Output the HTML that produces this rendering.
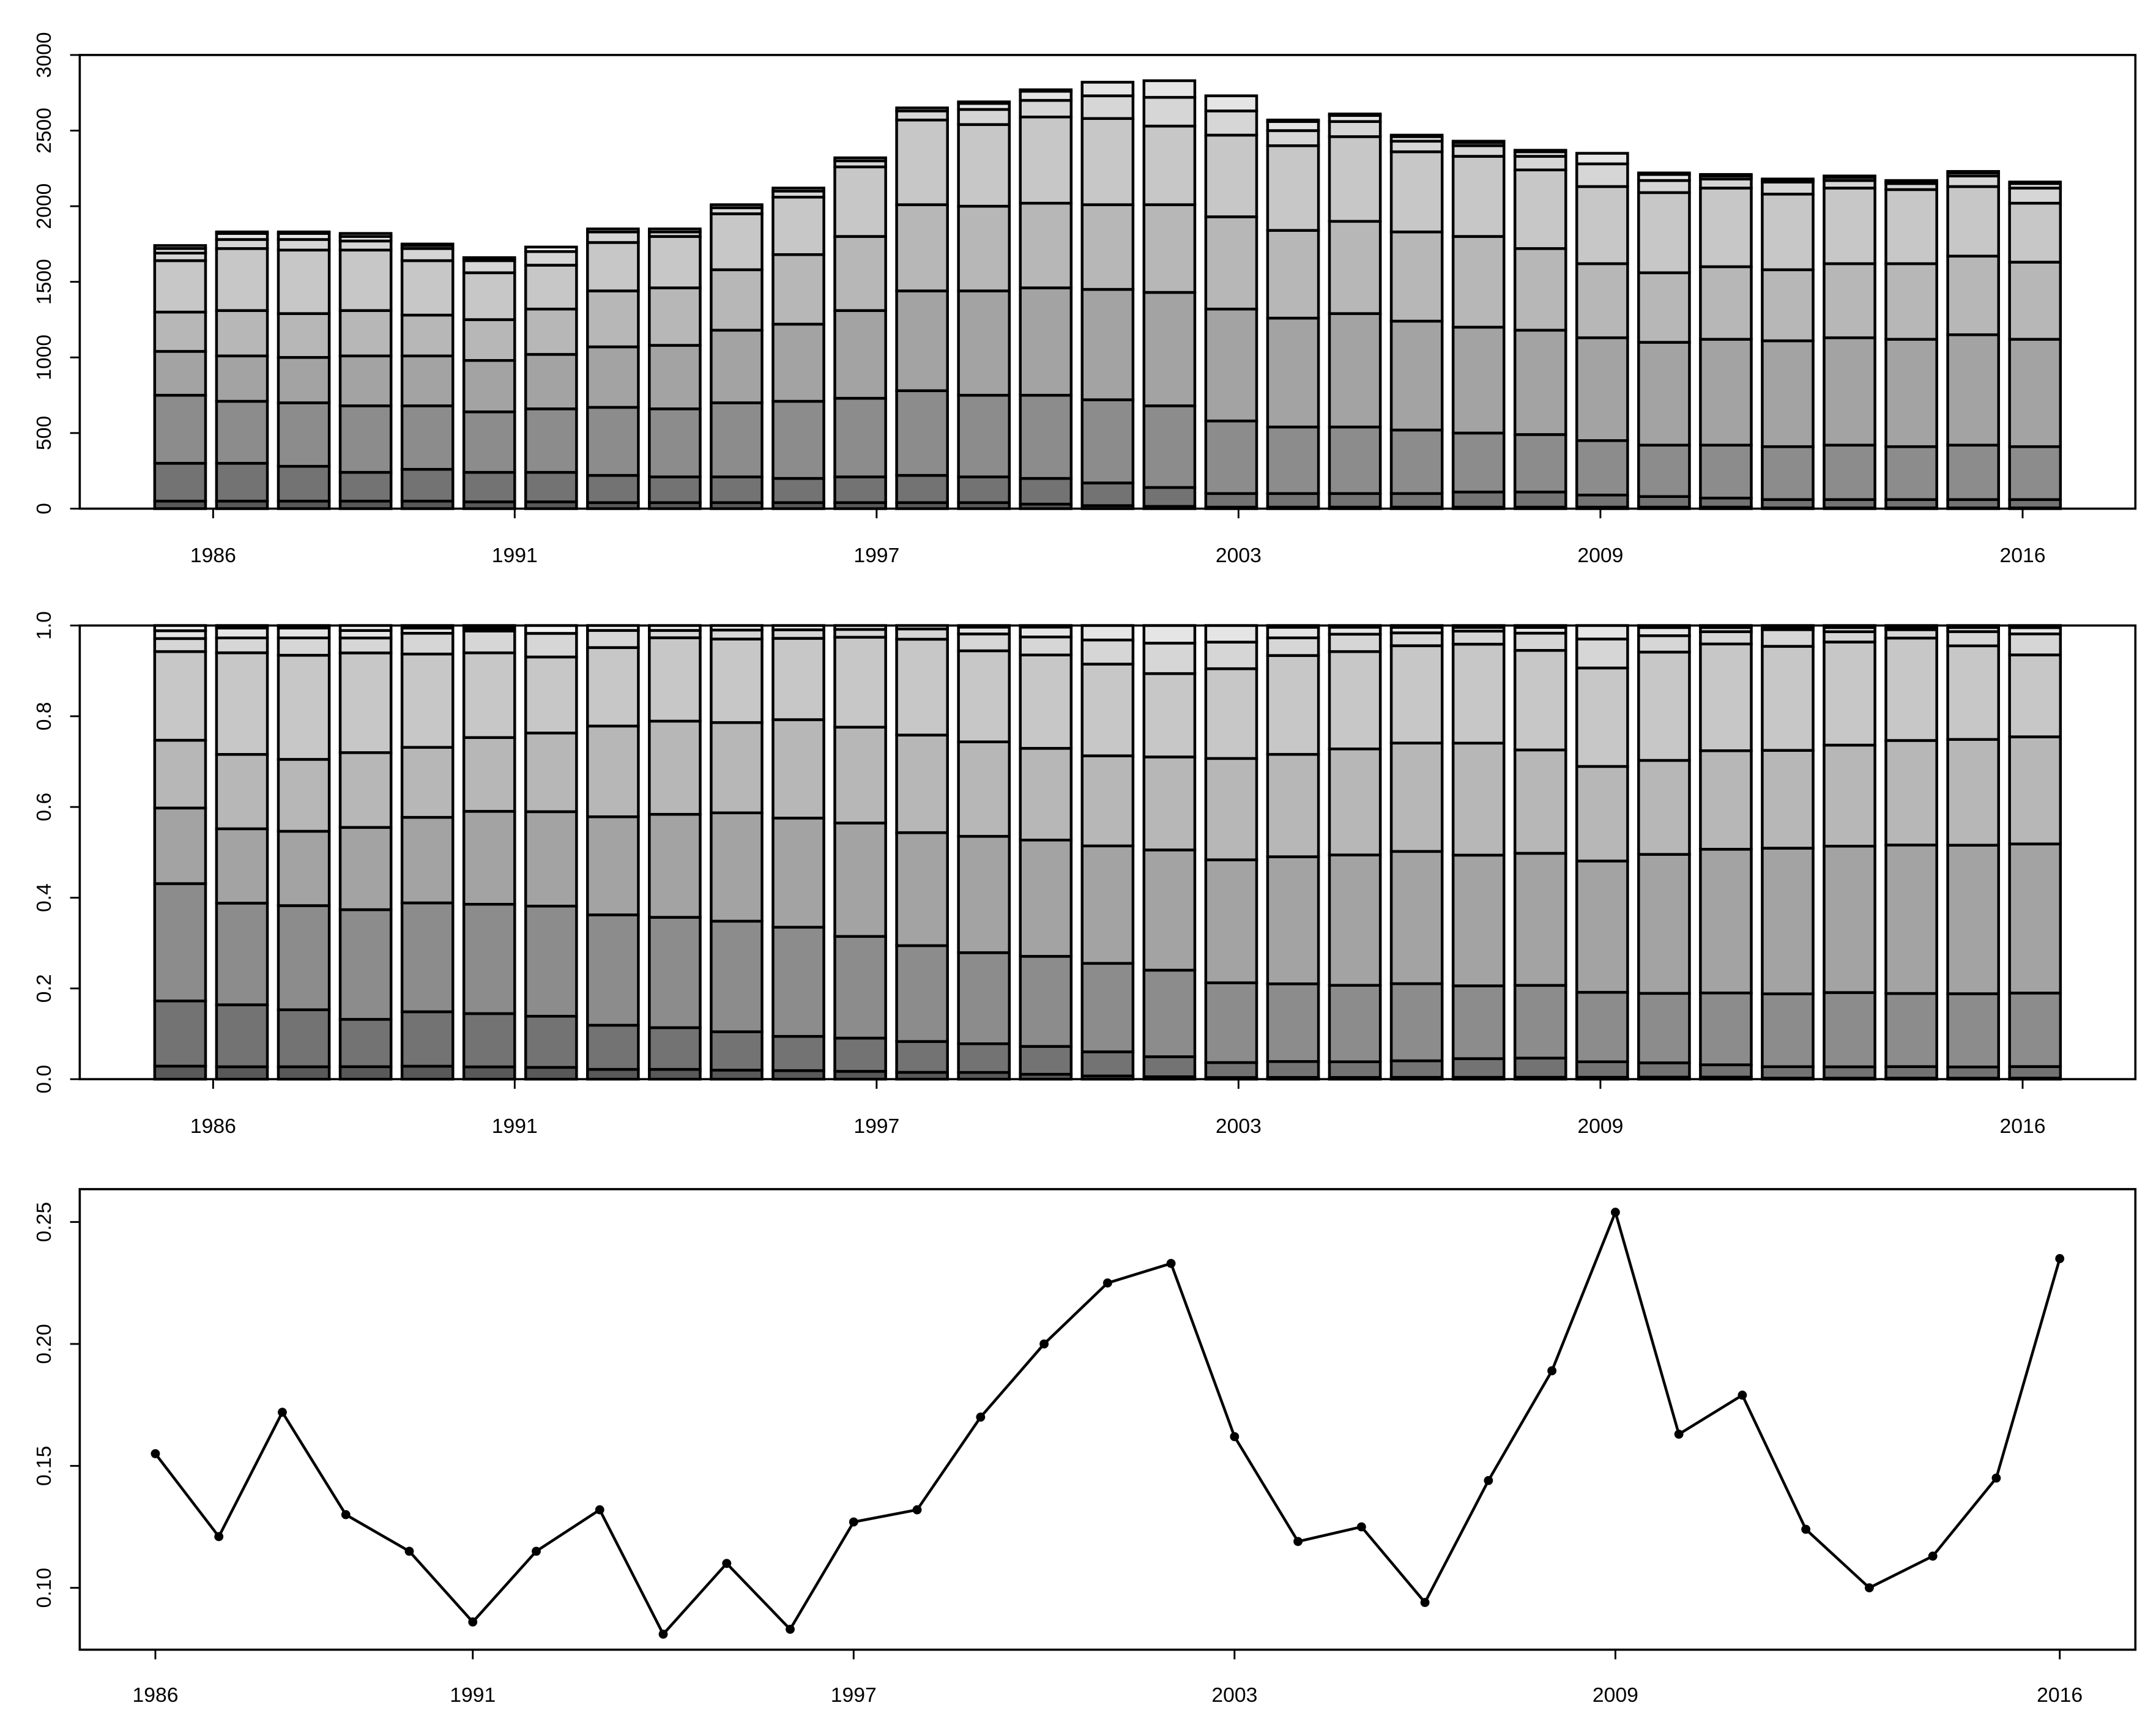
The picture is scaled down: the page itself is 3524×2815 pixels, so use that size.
<!DOCTYPE html>
<html><head><meta charset="utf-8"><style>html,body{margin:0;padding:0;background:#fff}svg{display:block}</style></head>
<body>
<svg id="chart" xmlns="http://www.w3.org/2000/svg" width="3524" height="2815" viewBox="0 0 1568 1252.6" preserveAspectRatio="none" font-family="Liberation Sans, sans-serif">
<rect width="1568" height="1252.6" fill="#fff"/>
</svg>
<script>
const years=[1986,1987,1988,1989,1990,1991,1992,1993,1994,1995,1996,1997,1998,1999,2000,2001,2002,2003,2004,2005,2006,2007,2008,2009,2010,2011,2012,2013,2014,2015,2016];
const cum1=[50,50,50,50,50,45,45,40,40,40,40,40,40,40,30,20,15,10,10,10,10,10,10,10,10,10,5,5,5,5,5];
const cum2=[300,300,280,240,260,240,240,220,210,210,200,210,220,210,200,170,140,100,100,100,100,110,110,90,80,70,60,60,60,60,60];
const cum3=[750,710,700,680,680,640,660,670,660,700,710,730,780,750,750,720,680,580,540,540,520,500,490,450,420,420,410,420,410,420,410];
const cum4=[1040,1010,1000,1010,1010,980,1020,1070,1080,1180,1220,1310,1440,1440,1460,1450,1430,1320,1260,1290,1240,1200,1180,1130,1100,1120,1110,1130,1120,1150,1120];
const cum5=[1300,1310,1290,1310,1280,1250,1320,1440,1460,1580,1680,1800,2010,2000,2020,2010,2010,1930,1840,1900,1830,1800,1720,1620,1560,1600,1580,1620,1620,1670,1630];
const cum6=[1640,1720,1710,1710,1640,1560,1610,1760,1800,1950,2060,2260,2570,2540,2590,2580,2530,2470,2400,2460,2360,2330,2240,2130,2090,2120,2080,2120,2110,2130,2020];
const cum7=[1690,1780,1780,1770,1720,1640,1700,1830,1830,1990,2100,2300,2630,2640,2700,2730,2720,2630,2500,2560,2430,2400,2330,2280,2170,2180,2160,2170,2150,2200,2120];
const cum8=[1720,1820,1820,1800,1740,1650,1700,1830,1830,1990,2100,2300,2630,2680,2760,2820,2830,2730,2560,2600,2460,2420,2360,2350,2210,2200,2170,2190,2160,2220,2150];
const cum9=[1740,1830,1830,1820,1750,1660,1730,1850,1850,2010,2120,2320,2650,2690,2770,2820,2830,2730,2570,2610,2470,2430,2370,2350,2220,2210,2180,2200,2170,2230,2160];
const ratio=[0.155,0.121,0.172,0.130,0.115,0.086,0.115,0.132,0.081,0.110,0.083,0.127,0.132,0.170,0.200,0.225,0.233,0.162,0.119,0.125,0.094,0.144,0.189,0.254,0.163,0.179,0.124,0.100,0.113,0.145,0.235];
const topTicks=[0,500,1000,1500,2000,2500,3000];
const propTicks=[0,0.2,0.4,0.6,0.8,1.0];
const propTickLabels=["0.0","0.2","0.4","0.6","0.8","1.0"];
const lineTicks=[0.10,0.15,0.20,0.25];
const lineTickLabels=["0.10","0.15","0.20","0.25"];
const xLabelYears=[1986,1991,1997,2003,2009,2016];

const svg=document.getElementById('chart');
const NS='http://www.w3.org/2000/svg';
function mk(tag,attrs,parent){const e=document.createElementNS(NS,tag);for(const k in attrs)e.setAttribute(k,attrs[k]);(parent||svg).appendChild(e);return e;}
const fills=['#595959','#737373','#8c8c8c','#a3a3a3','#b7b7b7','#c7c7c7','#d6d6d6','#e5e5e5','#f2f2f2'];
const cums=[cum1,cum2,cum3,cum4,cum5,cum6,cum7,cum8,cum9];
const L=58,R=1553;
const FS=15;
const barX=i=>131+i*(1480-131)/30;
const barW=37;
const yearLabelX=y=>155+(y-1986)*(1471-155)/30;

function panelBars(top,bot,maxV,ticks,labels,name,prop){
  const g=mk('g',{});
  
  
  const ys=v=>bot-(v/maxV)*(bot-top);
  years.forEach((yr,i)=>{
    const tot=cum9[i];
    let prev=0;
    cums.forEach((c,k)=>{
      let v=c[i]; let p=prev;
      if(prop){v=v/tot;p=prev/tot;}
      const y1=ys(v),y0=ys(p);
      const r=mk('rect',{x:barX(i)-barW/2,y:y1,width:barW,height:Math.max(0,y0-y1),fill:fills[k],stroke:'#000','stroke-width':2},g);
      
      
      prev=c[i];
    });
  });
  const box=mk('rect',{x:L,y:top,width:R-L,height:bot-top,fill:'none',stroke:'#000','stroke-width':1.6});
  
  
  ticks.forEach((t,j)=>{
    const y=ys(t);
    mk('line',{x1:L-7,x2:L,y1:y,y2:y,stroke:'#000','stroke-width':1.3});
    const tx=mk('text',{x:33,y:y,'font-size':FS,'text-anchor':'middle',transform:`rotate(-90 33 ${y})`,'dominant-baseline':'middle'});
    tx.textContent=labels[j];
    
    
  });
  xLabelYears.forEach(yr=>{
    const x=yearLabelX(yr);
    mk('line',{x1:x,x2:x,y1:bot,y2:bot+7,stroke:'#000','stroke-width':1.3});
    const tx=mk('text',{x:x,y:bot+39,'font-size':FS,'text-anchor':'middle'});
    tx.textContent=yr;
    
    
  });
}
panelBars(40,370,3000,topTicks,topTicks.map(String),'stacked-counts-panel',false);
panelBars(455,785,1,propTicks,propTickLabels,'stacked-proportions-panel',true);

const lt=865,lb=1200;
const lx=y=>113+(y-1986)*(1498-113)/30;
const ly=v=>1155-(v-0.10)/0.05*88.7;
const lg=mk('g',{});


const pl=mk('polyline',{points:years.map((y,i)=>lx(y)+','+ly(ratio[i])).join(' '),fill:'none',stroke:'#000','stroke-width':2},lg);


years.forEach((y,i)=>{
  const c=mk('circle',{cx:lx(y),cy:ly(ratio[i]),r:3.3,fill:'#000'},lg);
  
  
});
const lbox=mk('rect',{x:L,y:lt,width:R-L,height:lb-lt,fill:'none',stroke:'#000','stroke-width':1.6});


lineTicks.forEach((t,j)=>{
  const y=ly(t);
  mk('line',{x1:L-7,x2:L,y1:y,y2:y,stroke:'#000','stroke-width':1.3});
  const tx=mk('text',{x:33,y:y,'font-size':FS,'text-anchor':'middle',transform:`rotate(-90 33 ${y})`,'dominant-baseline':'middle'});
  tx.textContent=lineTickLabels[j];
  
  
});
xLabelYears.forEach(yr=>{
  const x=lx(yr);
  mk('line',{x1:x,x2:x,y1:lb,y2:lb+7,stroke:'#000','stroke-width':1.3});
  const tx=mk('text',{x:x,y:lb+38,'font-size':FS,'text-anchor':'middle'});
  tx.textContent=yr;
  
  
});
</script>
</body></html>
